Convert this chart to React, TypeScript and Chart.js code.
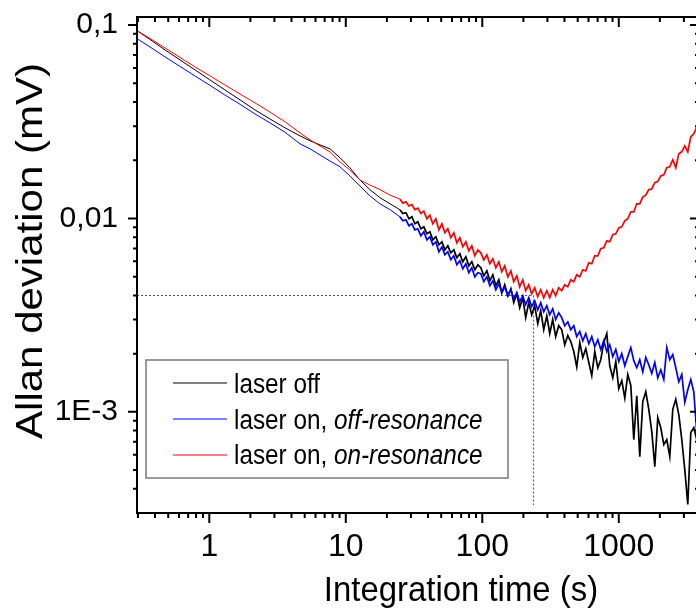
import { useEffect, useRef } from 'react';
import { Chart, registerables } from 'chart.js';

Chart.register(...registerables);

// ---------- data ----------
const tau = [
  0.29, 0.368, 0.474, 0.61, 0.786, 1.0, 1.3, 1.68, 2.16, 2.78, 3.59, 4.62, 5.47, 6.47, 7.66, 9.07, 10.7, 12.7, 15.0, 17.8, 21.1,
  24.9, 26.2, 27.6, 29.0, 30.5, 32.1, 33.7, 35.5, 37.3, 39.3,
  41.3, 43.4, 45.7, 48.1, 50.6, 53.2, 55.9, 58.8, 61.9, 65.1,
  68.5, 72.0, 75.8, 79.7, 83.8, 88.2, 92.8, 97.6, 102.6, 108,
  113.6, 119.5, 125.7, 132.2, 139, 146, 154, 162, 170, 179,
  188, 198, 208, 219, 230, 242, 255, 268, 282, 297,
  312, 328, 345, 363, 382, 402, 423, 445, 468, 492,
  518, 545, 573, 603, 634, 667, 702, 738, 776, 817,
  859, 904, 951, 1000, 1052, 1107, 1164, 1225, 1288, 1355,
  1425, 1499, 1577, 1659, 1745, 1836, 1931, 2031, 2137, 2248,
  2364, 2487, 2616, 2752, 2895, 3045, 3203, 3370, 3545, 3729,
];

const laserOff = [
  0.0942, 0.0842, 0.0743, 0.0660, 0.0586, 0.0523, 0.0462, 0.0410, 0.0364, 0.0327, 0.0294, 0.0267, 0.0252, 0.0240, 0.0229, 0.0206, 0.0183, 0.0158, 0.0141, 0.0128, 0.0119,
  0.0111, 0.0106, 0.0107, 0.00996, 0.0102, 0.00938, 0.00960, 0.00884, 0.00905, 0.00833,
  0.00853, 0.00775, 0.00804, 0.00731, 0.00757, 0.00688, 0.00722, 0.00664, 0.00688, 0.00626,
  0.00656, 0.00597, 0.00633, 0.00569, 0.00597, 0.00543, 0.00576, 0.00556, 0.00505, 0.00536,
  0.00476, 0.00511, 0.00449, 0.00482, 0.00413, 0.00454, 0.00398, 0.00433, 0.00367, 0.00408,
  0.00345, 0.00389, 0.00307, 0.00367, 0.00318, 0.00354, 0.00286, 0.00333, 0.00266, 0.00314,
  0.00254, 0.00300, 0.00245, 0.00279, 0.00266, 0.00222, 0.00248, 0.00231, 0.00205, 0.00171,
  0.00228, 0.00191, 0.00212, 0.00180, 0.00154, 0.00205, 0.00169, 0.00186, 0.00228, 0.00254,
  0.00173, 0.00150, 0.00182, 0.00132, 0.00145, 0.00118, 0.00156, 0.00137, 0.000718, 0.00121,
  0.000587, 0.00113, 0.00127, 0.00103, 0.00079, 0.000521, 0.000933, 0.000828, 0.000677, 0.000718,
  0.000587, 0.00103, 0.00116, 0.000967, 0.000718, 0.000503, 0.000332, 0.000781, 0.000828, 0.000718,
];

const offResonance = [
  0.0857, 0.0770, 0.0684, 0.0611, 0.0545, 0.0490, 0.0435, 0.0389, 0.0347, 0.0312, 0.0279, 0.0243, 0.0229, 0.0213, 0.0198, 0.0185, 0.0166, 0.0147, 0.0131, 0.0119, 0.0111,
  0.0102, 0.00972, 0.00984, 0.00916, 0.00938, 0.00873, 0.00884, 0.00813, 0.00853, 0.00775,
  0.00804, 0.00731, 0.00757, 0.00672, 0.00713, 0.00649, 0.00672, 0.00611, 0.00641, 0.00576,
  0.00604, 0.00549, 0.00583, 0.00524, 0.00556, 0.00499, 0.00524, 0.00518, 0.00471, 0.00499,
  0.00449, 0.00476, 0.00428, 0.00460, 0.00413, 0.00443, 0.00398, 0.00428, 0.00384, 0.00413,
  0.00371, 0.00398, 0.00358, 0.00389, 0.00350, 0.00375, 0.00337, 0.00367, 0.00329, 0.00354,
  0.00318, 0.00341, 0.00300, 0.00325, 0.00307, 0.00279, 0.00292, 0.00266, 0.00279, 0.00245,
  0.00260, 0.00233, 0.00254, 0.00225, 0.00245, 0.00217, 0.00236, 0.00210, 0.00233, 0.00205,
  0.00222, 0.00193, 0.00210, 0.00182, 0.00200, 0.00173, 0.00193, 0.00215, 0.00184, 0.00169,
  0.00186, 0.00161, 0.00191, 0.00175, 0.00158, 0.00180, 0.00150, 0.00165, 0.00147, 0.00215,
  0.00186, 0.00198, 0.00169, 0.00143, 0.00156, 0.00112, 0.00130, 0.00147, 0.00127, 0.000781,
];

const onResonance = [
  0.0942, 0.0852, 0.0761, 0.0680, 0.0607, 0.0549, 0.0490, 0.0440, 0.0396, 0.0355, 0.0316, 0.0277, 0.0255, 0.0237, 0.0221, 0.0196, 0.0178, 0.0158, 0.0149, 0.0141, 0.0132,
  0.0126, 0.0120, 0.0122, 0.0116, 0.0118, 0.0111, 0.0113, 0.0106, 0.0109, 0.00996,
  0.0104, 0.00938, 0.00996, 0.00873, 0.00938, 0.00843, 0.00884, 0.00794, 0.00843, 0.00748,
  0.00794, 0.00713, 0.00757, 0.00680, 0.00722, 0.00641, 0.00688, 0.00664, 0.00611, 0.00649,
  0.00583, 0.00619, 0.00556, 0.00597, 0.00530, 0.00569, 0.00499, 0.00536, 0.00471, 0.00505,
  0.00443, 0.00482, 0.00423, 0.00454, 0.00408, 0.00438, 0.00394, 0.00428, 0.00389, 0.00423,
  0.00389, 0.00428, 0.00398, 0.00438, 0.00423, 0.00454, 0.00443, 0.00482, 0.00471, 0.00511,
  0.00499, 0.00543, 0.00536, 0.00590, 0.00583, 0.00641, 0.00641, 0.00697, 0.00705, 0.00766,
  0.00757, 0.00823, 0.00833, 0.00894, 0.00905, 0.00972, 0.00996, 0.0108, 0.0108, 0.0119,
  0.0119, 0.0129, 0.0132, 0.0141, 0.0142, 0.0153, 0.0155, 0.0166, 0.0168, 0.0183,
  0.0185, 0.0201, 0.0183, 0.0216, 0.0221, 0.0237, 0.0221, 0.0264, 0.0274, 0.0297,
];

const seriesNames = ['laser off', 'laser on, off-resonance', 'laser on, on-resonance'];
const legendPlain = ['laser off', 'laser on, ', 'laser on, '];
const legendItalic = ['', 'off-resonance', 'on-resonance'];
const seriesColors = ['#000000', '#0000ff', '#ff0000'];

const xTickValues = [1, 10, 100, 1000];
const xTickLabels = ['1', '10', '100', '1000'];
const yTickValues = [0.001, 0.01, 0.1];
const yTickLabels = ['1E-3', '0,01', '0,1'];
const xMinorTicks = [0.3, 0.4, 0.5, 0.6, 0.7, 0.8, 0.9, 2, 3, 4, 5, 6, 7, 8, 9, 20, 30, 40, 50, 60, 70, 80, 90, 200, 300, 400, 500, 600, 700, 800, 900, 2000, 3000];
const yMinorTicks = [0.0004, 0.0005, 0.0006, 0.0007, 0.0008, 0.0009, 0.002, 0.003, 0.004, 0.005, 0.006, 0.007, 0.008, 0.009, 0.02, 0.03, 0.04, 0.05, 0.06, 0.07, 0.08, 0.09];

const xTitle = 'Integration time (s)';
const yTitle = 'Allan deviation (mV)';
const xMin = 0.2953;
const xMax = 3936;
const yMin = 3.02e-4;
const yMax = 0.11;

// dotted guide lines
const markerTau = 235;
const markerDev = 0.004;
const markerDevLow = 0.00033;

// style: where the dense (noisy) part of the traces starts
const denseFrom = 24;

const FONT = "'Liberation Sans', Arial, Helvetica, sans-serif";

const decorPlugin = {
  id: 'decor',
  beforeDatasetsDraw(chart: any) {
    const { ctx, chartArea: a, scales } = chart;
    const x = scales.x;
    const y = scales.y;
    ctx.save();
    ctx.beginPath();
    ctx.rect(a.left, a.top, a.right - a.left, a.bottom - a.top);
    ctx.clip();
    ctx.strokeStyle = '#555555';
    ctx.lineWidth = 1;
    ctx.setLineDash([2, 2]);
    const px = Math.round(x.getPixelForValue(markerTau)) + 0.5;
    const py = Math.round(y.getPixelForValue(markerDev)) + 0.5;
    ctx.beginPath();
    ctx.moveTo(a.left, py);
    ctx.lineTo(px, py);
    ctx.stroke();
    ctx.beginPath();
    ctx.moveTo(px, py);
    ctx.lineTo(px, y.getPixelForValue(markerDevLow));
    ctx.stroke();
    ctx.restore();
  },
  afterDatasetsDraw(chart: any) {
    const { ctx, chartArea: a, scales } = chart;
    const x = scales.x;
    const y = scales.y;
    ctx.save();
    // frame
    ctx.strokeStyle = '#000';
    ctx.lineWidth = 2;
    ctx.strokeRect(a.left, a.top, a.right - a.left, a.bottom - a.top);
    // ticks
    const major = 10;
    const minor = 5;
    const xt = (v: number, len: number) => {
      const p = x.getPixelForValue(v);
      ctx.beginPath();
      ctx.moveTo(p, a.bottom);
      ctx.lineTo(p, a.bottom + len);
      ctx.moveTo(p, a.top);
      ctx.lineTo(p, a.top + len);
      ctx.stroke();
    };
    const yt = (v: number, len: number) => {
      const p = y.getPixelForValue(v);
      ctx.beginPath();
      ctx.moveTo(a.left, p);
      ctx.lineTo(a.left - len + 1, p);
      ctx.moveTo(a.right, p);
      ctx.lineTo(a.right - len, p);
      ctx.stroke();
    };
    xTickValues.forEach((v) => xt(v, major));
    xMinorTicks.forEach((v) => xt(v, minor));
    yTickValues.forEach((v) => yt(v, major));
    yMinorTicks.forEach((v) => yt(v, minor));

    // legend
    const bx = 146, by = 360, bw = 362, bh = 118;
    ctx.fillStyle = '#ffffff';
    ctx.fillRect(bx, by, bw, bh);
    ctx.strokeStyle = '#7a7a7a';
    ctx.lineWidth = 1.5;
    ctx.strokeRect(bx, by, bw, bh);
    const rowLine = [383, 419, 455];
    const rowBase = [393, 429, 464];
    for (let i = 0; i < seriesNames.length; i++) {
      ctx.strokeStyle = seriesColors[i];
      ctx.lineWidth = 1;
      ctx.beginPath();
      ctx.moveTo(173, rowLine[i]);
      ctx.lineTo(227, rowLine[i]);
      ctx.stroke();
      ctx.save();
      ctx.translate(234, rowBase[i]);
      ctx.scale(0.9, 1);
      ctx.fillStyle = '#000';
      ctx.textAlign = 'left';
      ctx.textBaseline = 'alphabetic';
      ctx.font = `27px ${FONT}`;
      ctx.fillText(legendPlain[i], 0, 0);
      const w = ctx.measureText(legendPlain[i]).width;
      if (legendItalic[i]) {
        ctx.font = `italic 27px ${FONT}`;
        ctx.fillText(legendItalic[i], w, 0);
      }
      ctx.restore();
    }

    // axis titles
    ctx.fillStyle = '#000';
    ctx.save();
    ctx.translate(461, 601);
    ctx.scale(0.94, 1);
    ctx.font = `35px ${FONT}`;
    ctx.textAlign = 'center';
    ctx.textBaseline = 'alphabetic';
    ctx.fillText(xTitle, 0, 0);
    ctx.restore();

    ctx.save();
    ctx.translate(42, 251);
    ctx.scale(0.88, 1);
    ctx.rotate(-Math.PI / 2);
    ctx.font = `42px ${FONT}`;
    ctx.textAlign = 'center';
    ctx.textBaseline = 'alphabetic';
    ctx.fillText(yTitle, 0, 0);
    ctx.restore();

    ctx.restore();
  },
};

export default function App() {
  const ref = useRef<HTMLCanvasElement | null>(null);

  useEffect(() => {
    if (!ref.current) return;
    const series = [laserOff, offResonance, onResonance];
    const chart = new Chart(ref.current, {
      type: 'line',
      data: {
        datasets: series.map((vals, i) => ({
          label: seriesNames[i],
          data: tau.map((t, j) => ({ x: t, y: vals[j] })),
          borderColor: seriesColors[i],
          backgroundColor: seriesColors[i],
          borderWidth: 1,
          pointRadius: 0,
          tension: 0,
          fill: false,
          order: 3 - i,
          segment: {
            borderWidth: (c: any) => (c.p0.parsed.x >= denseFrom ? 1.7 : 1),
          },
        })),
      },
      options: {
        responsive: false,
        animation: false,
        devicePixelRatio: 1,
        layout: { padding: { top: 17, right: 4, left: 0, bottom: 0 } },
        plugins: {
          legend: { display: false },
          tooltip: { enabled: false },
          title: { display: false },
        },
        scales: {
          x: {
            type: 'logarithmic',
            position: 'bottom',
            min: xMin,
            max: xMax,
            afterFit: (s: any) => {
              s.height = 96;
            },
            afterBuildTicks: (s: any) => {
              s.ticks = xTickValues.map((v) => ({ value: v }));
            },
            ticks: {
              autoSkip: false,
              maxRotation: 0,
              minRotation: 0,
              padding: 8,
              color: '#000',
              font: { family: FONT, size: 32, lineHeight: 1 },
              callback: (v: any) => {
                const k = xTickValues.indexOf(Number(v));
                return k >= 0 ? xTickLabels[k] : '';
              },
            },
            grid: { display: true, drawOnChartArea: false, drawTicks: true, tickLength: 10, color: 'rgba(0,0,0,0)' },
            border: { display: false },
            title: { display: false },
          },
          y: {
            type: 'logarithmic',
            position: 'left',
            min: yMin,
            max: yMax,
            afterFit: (s: any) => {
              s.width = 137;
            },
            afterBuildTicks: (s: any) => {
              s.ticks = yTickValues.map((v) => ({ value: v }));
            },
            ticks: {
              autoSkip: false,
              padding: 0,
              color: '#000',
              font: { family: FONT, size: 30, lineHeight: 1 },
              callback: (v: any) => {
                const k = yTickValues.indexOf(Number(v));
                return k >= 0 ? yTickLabels[k] : '';
              },
            },
            grid: { display: true, drawOnChartArea: false, drawTicks: true, tickLength: 19, color: 'rgba(0,0,0,0)' },
            border: { display: false },
            title: { display: false },
          },
        },
      },
      plugins: [decorPlugin],
    } as any);
    return () => chart.destroy();
  }, []);

  return (
    <div
      style={{
        position: 'fixed',
        left: 0,
        top: 0,
        width: 696,
        height: 609,
        overflow: 'hidden',
        background: '#ffffff',
      }}
    >
      <canvas ref={ref} width={704} height={609} style={{ display: 'block', width: '704px', height: '609px' }} />
    </div>
  );
}
